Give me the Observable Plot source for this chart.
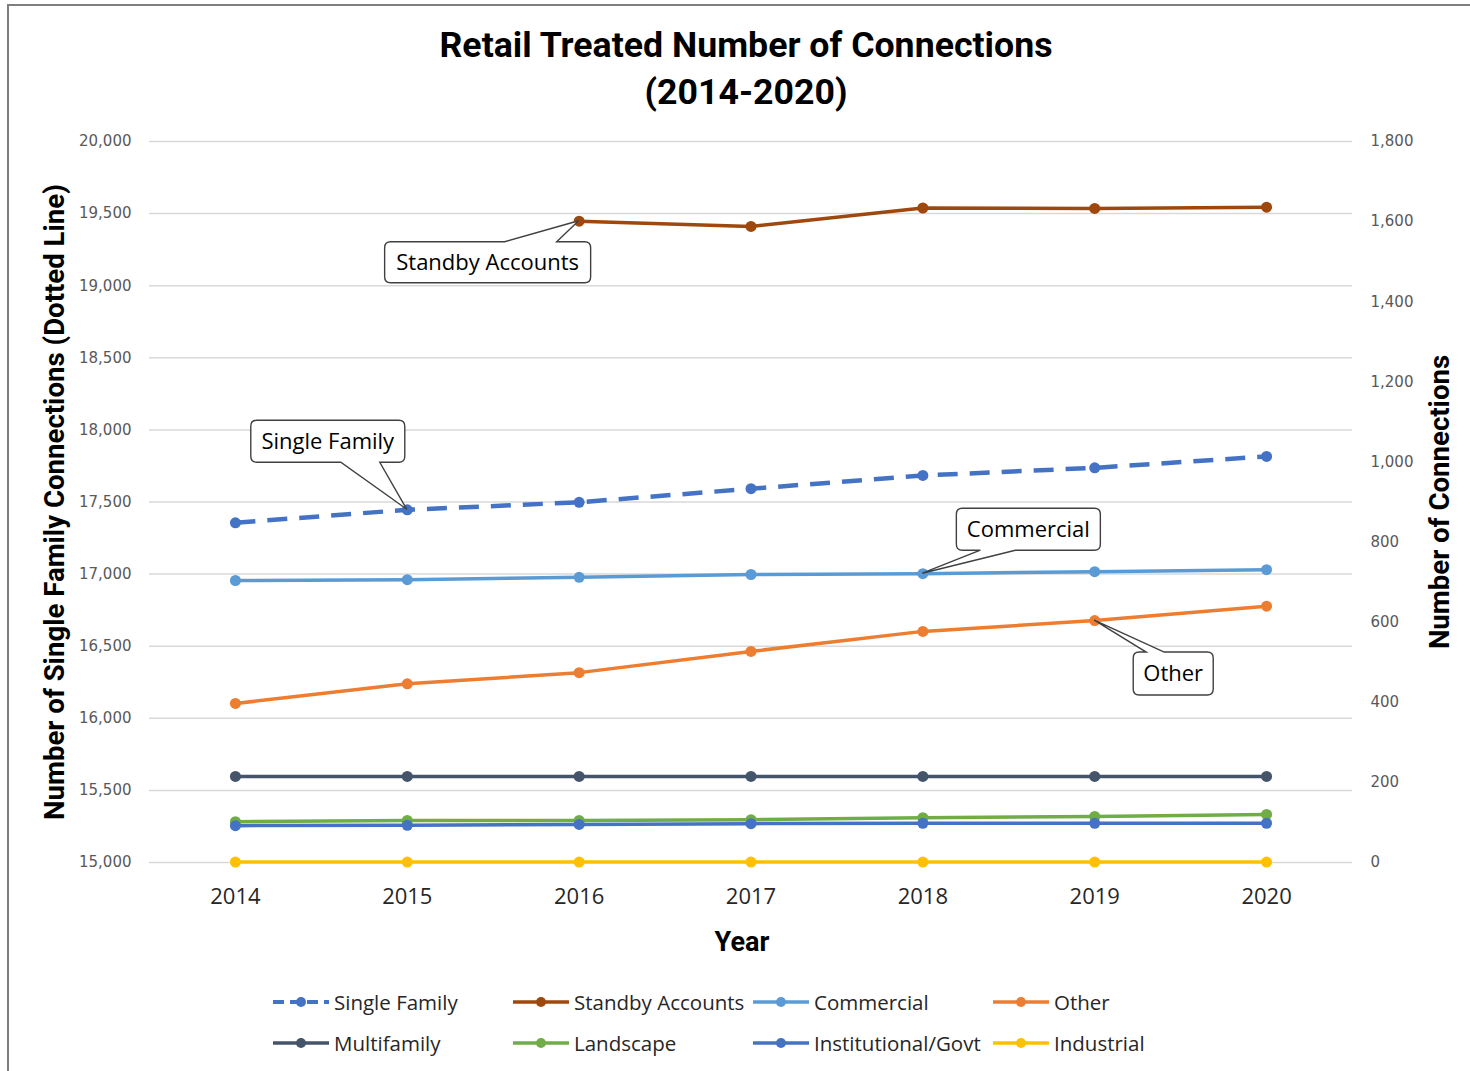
<!DOCTYPE html>
<html>
<head>
<meta charset="utf-8">
<script src="https://cdn.jsdelivr.net/npm/d3@7"></script>
<script src="https://cdn.jsdelivr.net/npm/@observablehq/plot@0.6"></script>
<style>
  html, body { margin: 0; padding: 0; background: #fff; }
  #page { position: relative; width: 1470px; height: 1071px; overflow: hidden; }
  #frame { position: absolute; left: 7px; top: 4px; right: -10px; bottom: -10px;
           border-left: 2px solid #7f7f7f; border-top: 2px solid #7f7f7f; pointer-events: none; }
  #title { height: 130px; box-sizing: border-box; padding-top: 22px; text-align: center;
           font-family: Roboto, sans-serif; font-weight: bold;
           font-size: 35.7px; line-height: 47px; color: #000; padding-left: 22px; }
  #legend { position: relative; height: 96px; }
  .item { position: absolute; display: flex; align-items: center; height: 30px;
          font-family: "Open Sans", sans-serif; font-size: 20.5px; color: #262626; white-space: nowrap; }
  .item svg { margin-right: 4px; }
</style>
</head>
<body>
<div id="page">
  <div id="title"></div>
  <div id="chart"></div>
  <div id="legend"></div>
  <div id="frame"></div>
</div>
<script>
// ---------- data ----------
const titleLines = ["Retail Treated Number of Connections", "(2014-2020)"];
const years = [2014, 2015, 2016, 2017, 2018, 2019, 2020];
const seriesNames = ["Single Family", "Standby Accounts", "Commercial", "Other",
                     "Multifamily", "Landscape", "Institutional/Govt", "Industrial"];
const seriesColors = ["#4472C4", "#9E480E", "#5B9BD5", "#ED7D31",
                      "#44546A", "#70AD47", "#4472C4", "#FFC000"];
const singleFamily  = [17356, 17446, 17498, 17592, 17684, 17737, 17816]; // left axis
const standby       = [null, null, 1601, 1588, 1634, 1633, 1636];       // right axis
const commercial    = [704, 706, 712, 719, 721, 726, 731];
const other         = [397, 446, 474, 527, 577, 604, 640];
const multifamily   = [215, 215, 215, 215, 215, 215, 215];
const landscape     = [102, 105, 105, 107, 112, 115, 120];
const institutional = [92, 93, 95, 97, 98, 98, 98];
const industrial    = [1, 1, 1, 1, 1, 1, 1];
const leftTicks  = [15000, 15500, 16000, 16500, 17000, 17500, 18000, 18500, 19000, 19500, 20000];
const rightTicks = [0, 200, 400, 600, 800, 1000, 1200, 1400, 1600, 1800];
const leftLabel  = "Number of Single Family Connections (Dotted Line)";
const rightLabel = "Number of Connections";
const xLabel     = "Year";
const calloutLabels = ["Standby Accounts", "Single Family", "Commercial", "Other"];
const calloutYears  = [2016, 2015, 2018, 2019];

// ---------- helpers ----------
const leftDomain = [15000, 20000];
const rightDomain = [0, 1800];
const toLeft = v => leftDomain[0] + (v - rightDomain[0]) * (leftDomain[1] - leftDomain[0]) / (rightDomain[1] - rightDomain[0]);
const fromLeft = v => rightDomain[0] + (v - leftDomain[0]) * (rightDomain[1] - rightDomain[0]) / (leftDomain[1] - leftDomain[0]);
const fmt = d3.format(",");

const seriesValues = [singleFamily, standby, commercial, other, multifamily, landscape, institutional, industrial];
const series = seriesNames.map((name, i) => ({
  name, color: seriesColors[i], dashed: i === 0,
  rows: years.map((year, j) => ({year, value: seriesValues[i][j],
          yv: seriesValues[i][j] == null ? null : (i === 0 ? seriesValues[i][j] : toLeft(seriesValues[i][j]))}))
             .filter(d => d.value != null)
}));

// callout styling (pixel offsets relative to the target point)
const calloutStyle = {
  "Standby Accounts": {box: [-194, 21, 12, 62], edge: "top", base: [-74, -22]},
  "Single Family":    {box: [-156, -89, -2, -47], edge: "bottom", base: [-66, -27]},
  "Commercial":       {box: [34, -65, 178, -23], edge: "bottom", base: [58, 93]},
  "Other":            {box: [39, 32, 119, 75], edge: "top", base: [52, 70]}
};

function calloutPath(x0, y0, x1, y1, r, edge, b1, b2, tx, ty) {
  let p = `M${x0 + r},${y0}`;
  if (edge === "top") p += `L${b1},${y0}L${tx},${ty}L${b2},${y0}`;
  p += `L${x1 - r},${y0}Q${x1},${y0} ${x1},${y0 + r}`;
  p += `L${x1},${y1 - r}Q${x1},${y1} ${x1 - r},${y1}`;
  if (edge === "bottom") p += `L${b2},${y1}L${tx},${ty}L${b1},${y1}`;
  p += `L${x0 + r},${y1}Q${x0},${y1} ${x0},${y1 - r}`;
  p += `L${x0},${y0 + r}Q${x0},${y0} ${x0 + r},${y0}Z`;
  return p;
}

const calloutMark = (index, scales) => {
  const g = d3.create("svg:g");
  calloutLabels.forEach((label, i) => {
    const s = series.find(d => d.name === label);
    const row = s.rows.find(d => d.year === calloutYears[i]);
    const tx = scales.x(row.year), ty = scales.y(row.yv);
    const st = calloutStyle[label];
    const [a, b, c, d] = st.box;
    g.append("path")
      .attr("d", calloutPath(tx + a, ty + b, tx + c, ty + d, 6, st.edge, tx + st.base[0], tx + st.base[1], tx, ty))
      .attr("fill", "#fff").attr("stroke", "#404040").attr("stroke-width", 1.4)
      .attr("stroke-linejoin", "miter");
    g.append("text")
      .attr("x", tx + (a + c) / 2).attr("y", ty + (b + d) / 2)
      .attr("text-anchor", "middle").attr("dy", "0.36em")
      .attr("font-family", "'Open Sans', sans-serif").attr("font-size", 22)
      .attr("fill", "#000").text(label);
  });
  return g.node();
};

// ---------- title ----------
document.getElementById("title").innerHTML = titleLines.join("<br>");

// ---------- chart ----------
const boldFont = "Roboto, sans-serif";
const marks = [
  Plot.gridY(leftTicks, {stroke: "#d9d9d9", strokeOpacity: 1, strokeWidth: 1.5}),
  Plot.axisY(leftTicks, {anchor: "left", tickSize: 0, tickPadding: 18, tickFormat: fmt,
    fontFamily: "DejaVu Sans", fontSize: 15, fill: "#595959", label: null}),
  Plot.axisY(rightTicks.map(toLeft), {anchor: "right", tickSize: 0, tickPadding: 18,
    tickFormat: d => fmt(Math.round(fromLeft(d))), fontFamily: "DejaVu Sans", fontSize: 15, fill: "#595959", label: null}),
  Plot.axisX(years, {tickSize: 0, tickPadding: 26, tickFormat: d => String(d),
    fontFamily: "Open Sans", fontSize: 22, fill: "#262626", label: null}),
  Plot.text([leftLabel], {frameAnchor: "left", dx: -94, rotate: -90, textAnchor: "middle",
    fontFamily: boldFont, fontWeight: "bold", fontSize: 27.6, fill: "#000"}),
  Plot.text([rightLabel], {frameAnchor: "right", dx: 88, rotate: -90, textAnchor: "middle",
    fontFamily: boldFont, fontWeight: "bold", fontSize: 27.6, fill: "#000"}),
  Plot.text([xLabel], {frameAnchor: "bottom", dy: 88, dx: -9, textAnchor: "middle",
    fontFamily: boldFont, fontWeight: "bold", fontSize: 27, fill: "#000"})
];
for (const s of series) {
  marks.push(Plot.line(s.rows, {x: "year", y: "yv", stroke: s.color,
    strokeWidth: s.dashed ? 4.5 : 3.5, strokeDasharray: s.dashed ? "20,12" : null,
    strokeLinecap: "butt", strokeLinejoin: "round"}));
  marks.push(Plot.dot(s.rows, {x: "year", y: "yv", fill: s.color, r: 5.5, stroke: "none"}));
}
marks.push(calloutMark);

const chart = Plot.plot({
  width: 1470,
  height: 845,
  marginTop: 11,
  marginBottom: 113,
  marginLeft: 149,
  marginRight: 118,
  x: {domain: [2013.5, 2020.5], axis: null},
  y: {domain: leftDomain, axis: null},
  style: {background: "#fff", overflow: "visible"},
  marks
});
document.getElementById("chart").appendChild(chart);

// ---------- legend ----------
const legend = d3.select("#legend");
seriesNames.forEach((name, i) => {
  const col = i % 4, row = Math.floor(i / 4);
  const item = legend.append("div").attr("class", "item")
    .style("left", (272 + col * 240) + "px")
    .style("top", (12 + row * 41) + "px");
  const sv = item.append("svg").attr("width", 58).attr("height", 20);
  sv.append("line").attr("x1", 1).attr("x2", 57).attr("y1", 10).attr("y2", 10)
    .attr("stroke", seriesColors[i]).attr("stroke-width", i === 0 ? 4 : 3.5)
    .attr("stroke-dasharray", i === 0 ? "11,6" : null);
  sv.append("circle").attr("cx", 29).attr("cy", 10).attr("r", 5).attr("fill", seriesColors[i]);
  item.append("span").text(name);
});
</script>
</body>
</html>
